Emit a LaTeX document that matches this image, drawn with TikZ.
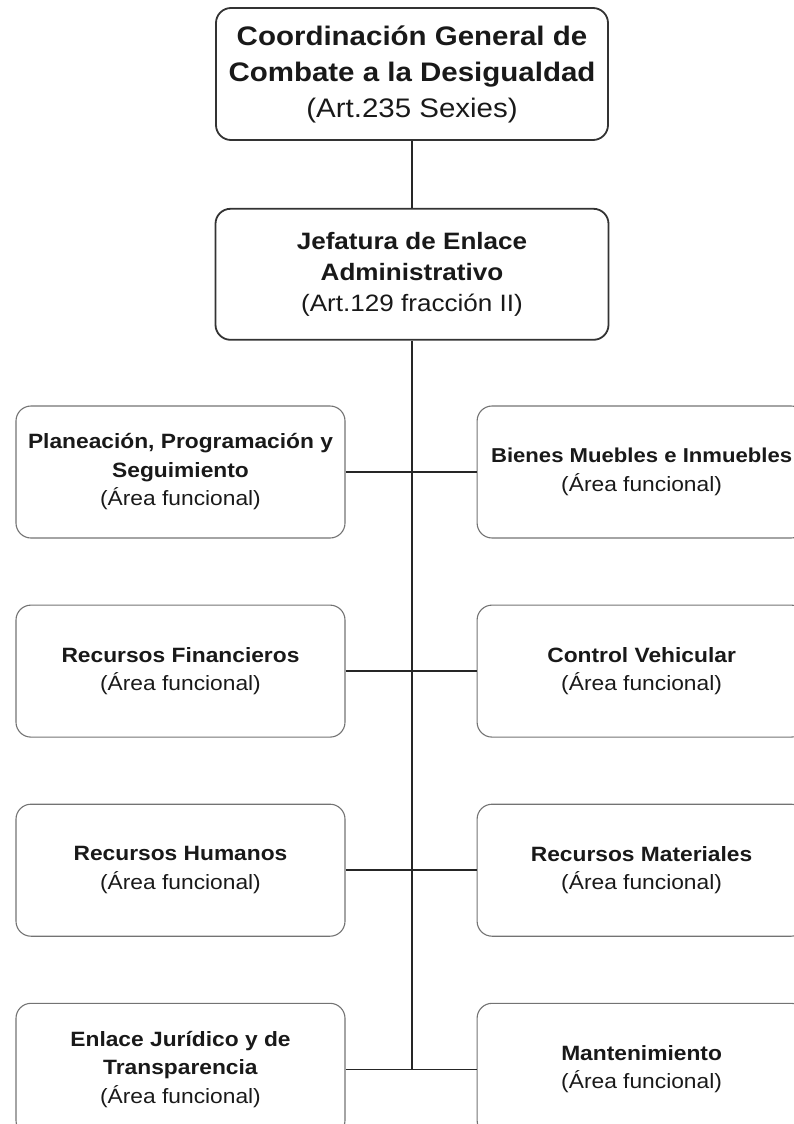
\documentclass[tikz,border=0pt]{standalone}
\usepackage{fontspec}
\setmainfont{Liberation Sans}[FakeStretch=1.1]
\usetikzlibrary{positioning}

\begin{document}
\begin{tikzpicture}[
            x=1pt, y=1pt,
            node distance=66pt and 131pt,
            % Styles
            mainbox/.style={rectangle, draw=black!80, line width=1.8pt, rounded corners=15pt, align=center, text=black!90},
            areabox/.style={rectangle, draw=black!55, line width=1.1pt, rounded corners=15pt, minimum width=329pt, minimum height=132pt, align=center, text=black!90, font=\fontsize{20.7}{28.5}\selectfont},
            link/.style={line width=1.6pt, draw=black!85}
        ]
        \useasboundingbox (0,0) rectangle (793,-1124);

        % --- TOP LEVEL ---
        \node (coord) [mainbox, minimum width=392pt, minimum height=132pt, font=\fontsize{26.8}{36}\selectfont] at (412,-74) {\textbf{Coordinación General de}\\\textbf{Combate a la Desigualdad}\\(Art.235 Sexies)};
        \node (jefatura) [mainbox, minimum width=393pt, minimum height=131pt, below=67pt of coord, font=\fontsize{23.7}{31}\selectfont] {\textbf{Jefatura de Enlace}\\\textbf{Administrativo}\\(Art.129 fracción II)};

        % --- LEFT COLUMN ---
        \node (planeacion) [areabox] at (180.5,-472) {\textbf{Planeación, Programación y}\\\textbf{Seguimiento}\\(Área funcional)};
        \node (financieros) [areabox, below=of planeacion] {\textbf{Recursos Financieros}\\(Área funcional)};
        \node (humanos) [areabox, below=of financieros] {\textbf{Recursos Humanos}\\(Área funcional)};
        \node (juridico) [areabox, below=of humanos] {\textbf{Enlace Jurídico y de}\\\textbf{Transparencia}\\(Área funcional)};

        % --- RIGHT COLUMN ---
        \node (bienes) [areabox, right=of planeacion] {\textbf{\fontsize{20.1}{28.5}\selectfont Bienes Muebles e Inmuebles}\\(Área funcional)};
        \node (vehicular) [areabox, right=of financieros] {\textbf{Control Vehicular}\\(Área funcional)};
        \node (materiales) [areabox, right=of humanos] {\textbf{Recursos Materiales}\\(Área funcional)};
        \node (mantenimiento) [areabox, right=of juridico] {\textbf{Mantenimiento}\\(Área funcional)};

        % --- TRUNK ---
        \coordinate (trunkend) at (jefatura.south |- juridico.east);
        \draw [link] (coord) -- (jefatura);
        \draw [link] (jefatura.south) -- (trunkend); % Drop down to last row

        % --- BRANCHES ---
        \draw [link] (planeacion) -- (bienes);
        \draw [link] (financieros) -- (vehicular);
        \draw [link] (humanos) -- (materiales);
        \draw [link] (juridico) -- (mantenimiento);

        \end{tikzpicture}
\end{document}
